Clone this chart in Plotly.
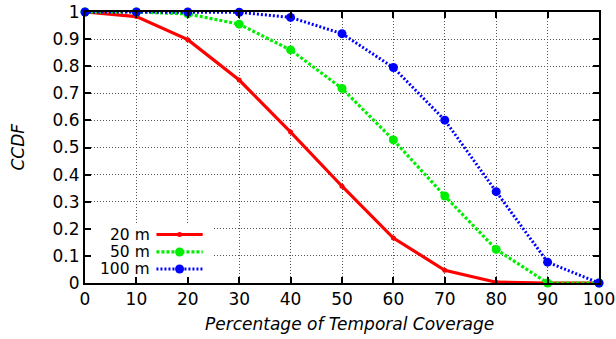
import plotly.graph_objects as go

coverage = [0, 10, 20, 30, 40, 50, 60, 70, 80, 90, 100]
ccdf_20m = [1.0, 0.983, 0.898, 0.749, 0.557, 0.357, 0.166, 0.047, 0.003, 0.0, 0.0]
ccdf_50m = [1.0, 1.0, 0.993, 0.955, 0.860, 0.718, 0.528, 0.321, 0.124, 0.0, 0.0]
ccdf_100m = [1.0, 1.0, 1.0, 0.999, 0.980, 0.920, 0.795, 0.601, 0.337, 0.077, 0.0]
series_names = ["20 m", "50 m", "100 m"]

FONT = "DejaVu Sans"
styles = [
    dict(color="#ff0000", width=3.2, dash="solid", msize=5, symbol="circle"),
    dict(color="#00ee00", width=3.2, dash="3px,2px", msize=9, symbol="circle"),
    dict(color="#0000ff", width=3.0, dash="2px,2px", msize=9, symbol="circle"),
]

fig = go.Figure()
for name, ys, st in zip(series_names, [ccdf_20m, ccdf_50m, ccdf_100m], styles):
    fig.add_trace(go.Scatter(
        x=coverage, y=ys, name=name, mode="lines+markers",
        line=dict(color=st["color"], width=st["width"], dash=st["dash"]),
        marker=dict(color=st["color"], size=st["msize"], symbol=st["symbol"]),
        cliponaxis=False, showlegend=False, hoverinfo="skip",
    ))

# custom gnuplot-style legend (text right-aligned, sample to the right)
shapes = [dict(type="rect", xref="x", yref="y", x0=0, x1=24.8, y0=0, y1=0.215,
               fillcolor="white", line=dict(width=0), layer="between")]
annotations = []
leg_y = [0.179, 0.1145, 0.0517]
for name, yy, st in zip(series_names, leg_y, styles):
    annotations.append(dict(x=12.9, y=yy, xref="x", yref="y", text=name, showarrow=False,
                            xanchor="right", yanchor="middle", height=15, borderpad=0,
                            font=dict(family=FONT, size=15.5, color="black")))
    shapes.append(dict(type="line", xref="x", yref="y", x0=13.9, x1=22.9, y0=yy, y1=yy,
                       line=dict(color=st["color"], width=st["width"], dash=st["dash"]),
                       layer="above"))
    r = st["msize"] / 2
    shapes.append(dict(type="circle", xref="x", yref="y", xsizemode="pixel", ysizemode="pixel",
                       xanchor=18.4, yanchor=yy, x0=-r, x1=r, y0=-r, y1=r,
                       fillcolor=st["color"], line=dict(width=0), layer="above"))

# axis titles placed manually
annotations.append(dict(x=0.5, y=0.0, xref="paper", yref="paper", yshift=-41, xshift=7,
                        text="<i>Percentage of Temporal Coverage</i>", showarrow=False,
                        xanchor="center", yanchor="middle",
                        font=dict(family=FONT, size=17, color="black")))
annotations.append(dict(x=0, y=0.5, xref="paper", yref="paper", xshift=-68,
                        text="<i>CCDF</i>", showarrow=False, textangle=-90,
                        xanchor="center", yanchor="middle",
                        font=dict(family=FONT, size=17, color="black")))

axis_common = dict(
    showline=True, linecolor="black", linewidth=2, mirror="allticks",
    ticks="inside", ticklen=6, tickwidth=1.5, tickcolor="black",
    showgrid=True, gridcolor="#555555", gridwidth=1, griddash="1px,2px",
    zeroline=False, automargin=False,
    tickfont=dict(family=FONT, size=17, color="black"),
)

fig.update_layout(
    width=616, height=339,
    margin=dict(l=85, r=17, t=12, b=56),
    paper_bgcolor="white", plot_bgcolor="white",
    hovermode=False,
    xaxis=dict(range=[0, 100], dtick=10, tick0=0, **axis_common),
    yaxis=dict(range=[0, 1], dtick=0.1, tick0=0, **axis_common),
    shapes=shapes, annotations=annotations,
)

# remove the default 8px page margin so the figure fills the window exactly
fig.write_html("out.html", config={"displayModeBar": False},
               post_script="document.body.style.margin='0px';")
